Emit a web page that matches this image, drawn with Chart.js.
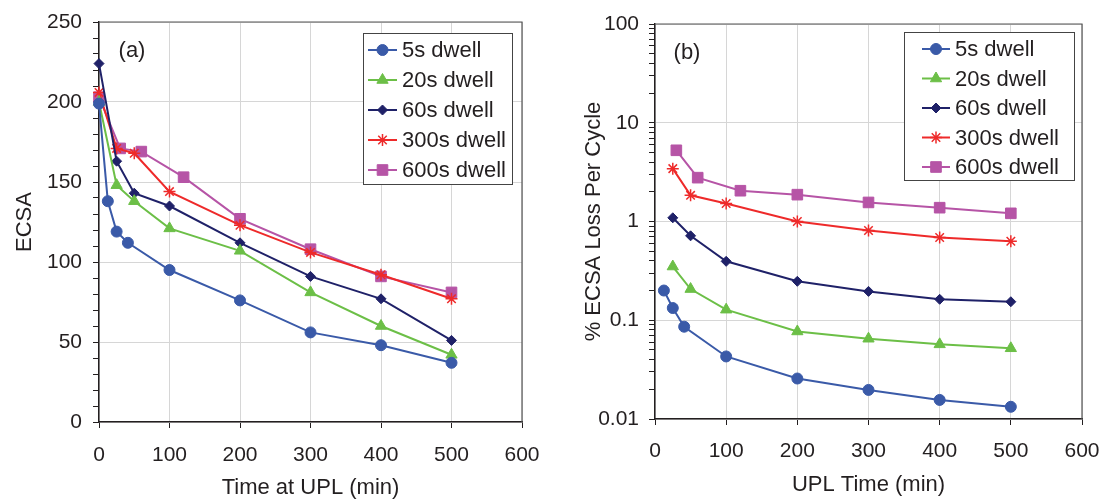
<!DOCTYPE html>
<html>
<head>
<meta charset="utf-8">
<script src="https://cdn.jsdelivr.net/npm/chart.js@4.4.1/dist/chart.umd.min.js"></script>
<style>
  body { margin: 0; background: #fff; }
  #wrap { position: relative; width: 1101px; height: 500px; }
  #chartA { position: absolute; left: 0; top: 0; }
  #chartB { position: absolute; left: 550px; top: 0; }
</style>
</head>
<body>
<div id="wrap">
  <canvas id="chartA" width="550" height="500"></canvas>
  <canvas id="chartB" width="551" height="500"></canvas>
</div>
<script>
// series names
var dwellNames = ['5s dwell', '20s dwell', '60s dwell', '300s dwell', '600s dwell'];

// (a) ECSA vs time at UPL (min)
var timeA5 = [0, 12.5, 25, 41, 100, 200, 300, 400, 500];
var ecsa5 = [199, 138, 119, 112, 95, 76, 56, 48, 37];
var timeA20 = [0, 25, 50, 100, 200, 300, 400, 500];
var ecsa20 = [200, 148, 138, 121, 107, 81, 60, 42];
var timeA60 = [0, 25, 50, 100, 200, 300, 400, 500];
var ecsa60 = [224, 163, 143, 135, 112, 91, 77, 51];
var timeA300 = [0, 25, 50, 100, 200, 300, 400, 500];
var ecsa300 = [206, 171, 168, 144, 123, 106, 92, 77];
var timeA600 = [0, 30, 60, 120, 200, 300, 400, 500];
var ecsa600 = [203, 171, 169, 153, 127, 108, 91, 81];

// (b) % ECSA loss per cycle vs UPL time (min)
var timeB5 = [12.5, 25, 41, 100, 200, 300, 400, 500];
var loss5 = [0.2, 0.133, 0.086, 0.043, 0.0257, 0.0197, 0.0156, 0.0133];
var timeB20 = [25, 50, 100, 200, 300, 400, 500];
var loss20 = [0.35, 0.207, 0.128, 0.077, 0.065, 0.057, 0.052];
var timeB60 = [25, 50, 100, 200, 300, 400, 500];
var loss60 = [1.09, 0.716, 0.395, 0.248, 0.196, 0.163, 0.154];
var timeB300 = [25, 50, 100, 200, 300, 400, 500];
var loss300 = [3.43, 1.84, 1.52, 1.0, 0.81, 0.69, 0.63];
var timeB600 = [30, 60, 120, 200, 300, 400, 500];
var loss600 = [5.26, 2.78, 2.05, 1.87, 1.56, 1.38, 1.21];

// axis ticks
var xTicks = [0, 100, 200, 300, 400, 500, 600];
var ecsaTicks = [0, 50, 100, 150, 200, 250];
var lossTicks = [0.01, 0.1, 1, 10, 100];

// look of each series
var colors = ['#3a5aa8', '#6cbf47', '#1f2168', '#ee2a2a', '#b654a6'];
var styles = ['circle', 'triangle', 'rectRot', 'star', 'rect'];
var radii = [5.5, 6.5, 5, 6, 7.5];

Chart.defaults.font.family = '"Liberation Sans", Arial, sans-serif';
Chart.defaults.font.size = 21;
Chart.defaults.color = '#231f20';

function pairs(xs, ys) {
    return xs.map(function (x, i) { return { x: x, y: ys[i] }; });
}

function makeDatasets(xsList, ysList) {
    return dwellNames.map(function (name, i) {
        return {
            label: name,
            data: pairs(xsList[i], ysList[i]),
            borderColor: colors[i],
            backgroundColor: colors[i],
            borderWidth: 2,
            pointStyle: styles[i],
            pointRadius: radii[i],
            pointBorderWidth: styles[i] === 'star' ? 1.5 : 1,
            pointBackgroundColor: colors[i],
            pointBorderColor: colors[i],
            tension: 0,
            clip: false
        };
    });
}

function isDecade(v) {
    var l = Math.log10(v);
    return Math.abs(l - Math.round(l)) < 1e-6;
}

// frame on top/right, panel letter and the boxed legend
var panelDeco = {
    id: 'panelDeco',
    beforeDatasetsDraw: function (chart) {
        var a = chart.chartArea, ctx = chart.ctx;
        ctx.save();
        ctx.strokeStyle = '#555';
        ctx.lineWidth = 1.2;
        ctx.beginPath();
        ctx.moveTo(a.left, a.top);
        ctx.lineTo(a.right, a.top);
        ctx.lineTo(a.right, a.bottom);
        ctx.stroke();
        ctx.restore();
    },
    afterDraw: function (chart, args, opts) {
        var ctx = chart.ctx, lg = opts.legend;
        ctx.save();
        ctx.fillStyle = '#231f20';
        ctx.font = '22px "Liberation Sans", Arial, sans-serif';
        ctx.textAlign = 'center';
        ctx.textBaseline = 'middle';
        ctx.fillText(opts.label, opts.labelX, opts.labelY);

        ctx.fillStyle = '#fff';
        ctx.fillRect(lg.x, lg.y, lg.w, lg.h);
        ctx.strokeStyle = '#444';
        ctx.lineWidth = 1;
        ctx.strokeRect(lg.x + 0.5, lg.y + 0.5, lg.w, lg.h);

        chart.data.datasets.forEach(function (ds, i) {
            var y = lg.row0 + i * lg.rowStep;
            ctx.strokeStyle = ds.borderColor;
            ctx.fillStyle = ds.borderColor;
            ctx.lineWidth = 2;
            ctx.beginPath();
            ctx.moveTo(lg.lineX0, y);
            ctx.lineTo(lg.lineX1, y);
            ctx.stroke();
            ctx.lineWidth = ds.pointBorderWidth;
            Chart.helpers.drawPoint(ctx, {
                pointStyle: ds.pointStyle,
                radius: ds.pointRadius,
                rotation: 0,
                borderWidth: ds.pointBorderWidth
            }, (lg.lineX0 + lg.lineX1) / 2, y);
            ctx.fillStyle = '#231f20';
            ctx.textAlign = 'left';
            ctx.fillText(ds.label, lg.textX, y + 1);
        });
        ctx.restore();
    }
};

var xAxis = function (title, tickPad, height, titlePad) {
    return {
        type: 'linear',
        min: 0,
        max: 600,
        afterBuildTicks: function (s) { s.ticks = xTicks.map(function (v) { return { value: v }; }); },
        afterFit: function (s) {
            s.height = height;
            s.paddingLeft = 0;
            s.paddingRight = 0;
        },
        ticks: { padding: tickPad, autoSkip: false, maxRotation: 0 },
        grid: { color: '#d6d6d6', lineWidth: 1, tickColor: '#231f20', tickLength: 6 },
        border: { color: '#231f20', width: 1.5 },
        title: { display: true, text: title, font: { size: 22, lineHeight: 1 }, padding: { top: 0, bottom: titlePad } }
    };
};

// panel (a)
new Chart(document.getElementById('chartA').getContext('2d'), {
    type: 'line',
    data: {
        datasets: makeDatasets(
            [timeA5, timeA20, timeA60, timeA300, timeA600],
            [ecsa5, ecsa20, ecsa60, ecsa300, ecsa600])
    },
    options: {
        responsive: false,
        animation: false,
        devicePixelRatio: 1,
        layout: { padding: { top: 22, right: 28, left: 0, bottom: 0 } },
        plugins: {
            legend: { display: false },
            tooltip: { enabled: false },
            panelDeco: {
                label: '(a)', labelX: 132, labelY: 51,
                legend: { x: 363, y: 33, w: 149, h: 151, row0: 50, rowStep: 30, lineX0: 368, lineX1: 397, textX: 402 }
            }
        },
        scales: {
            x: xAxis('Time at UPL (min)', 15, 78, 1),
            y: {
                type: 'linear',
                min: 0,
                max: 250,
                afterBuildTicks: function (s) {
                    var t = [];
                    for (var v = 0; v <= 250; v += 10) t.push({ value: v });
                    s.ticks = t;
                },
                afterFit: function (s) {
                    s.width = 99;
                    s.paddingTop = 0;
                    s.paddingBottom = 0;
                },
                ticks: {
                    padding: 11,
                    autoSkip: false,
                    callback: function (v) { return ecsaTicks.indexOf(v) >= 0 ? String(v) : ''; }
                },
                grid: {
                    color: function (c) { return c.tick && ecsaTicks.indexOf(c.tick.value) >= 0 ? '#d6d6d6' : 'rgba(0,0,0,0)'; },
                    tickColor: '#231f20',
                    tickLength: 6
                },
                border: { color: '#231f20', width: 1.5 },
                title: { display: true, text: 'ECSA', font: { size: 22, lineHeight: 1 }, padding: { top: 14, bottom: 0 } }
            }
        }
    },
    plugins: [panelDeco]
});

// panel (b)
new Chart(document.getElementById('chartB').getContext('2d'), {
    type: 'line',
    data: {
        datasets: makeDatasets(
            [timeB5, timeB20, timeB60, timeB300, timeB600],
            [loss5, loss20, loss60, loss300, loss600])
    },
    options: {
        responsive: false,
        animation: false,
        devicePixelRatio: 1,
        layout: { padding: { top: 24, right: 19, left: 0, bottom: 0 } },
        plugins: {
            legend: { display: false },
            tooltip: { enabled: false },
            panelDeco: {
                label: '(b)', labelX: 137, labelY: 53,
                legend: { x: 354, y: 32, w: 170, h: 148, row0: 49, rowStep: 29.5, lineX0: 372, lineX1: 400, textX: 405 }
            }
        },
        scales: {
            x: xAxis('UPL Time (min)', 14, 81, 4),
            y: {
                type: 'logarithmic',
                min: 0.01,
                max: 100,
                afterBuildTicks: function (s) {
                    var t = [];
                    for (var d = 0; d < lossTicks.length - 1; d++) {
                        for (var m = 1; m <= 9; m++) t.push({ value: Number((m * lossTicks[d]).toPrecision(6)) });
                    }
                    t.push({ value: lossTicks[lossTicks.length - 1] });
                    s.ticks = t;
                },
                afterFit: function (s) {
                    s.width = 105;
                    s.paddingTop = 0;
                    s.paddingBottom = 0;
                },
                ticks: {
                    padding: 10,
                    autoSkip: false,
                    callback: function (v) { return isDecade(v) ? String(Number(v.toPrecision(3))) : ''; }
                },
                grid: {
                    color: function (c) { return c.tick && isDecade(c.tick.value) ? '#d6d6d6' : 'rgba(0,0,0,0)'; },
                    tickColor: '#231f20',
                    tickLength: 6
                },
                border: { color: '#231f20', width: 1.5 },
                title: { display: true, text: '% ECSA Loss Per Cycle', font: { size: 22, lineHeight: 1 }, padding: { top: 33, bottom: 0 } }
            }
        }
    },
    plugins: [panelDeco]
});
</script>
</body>
</html>
